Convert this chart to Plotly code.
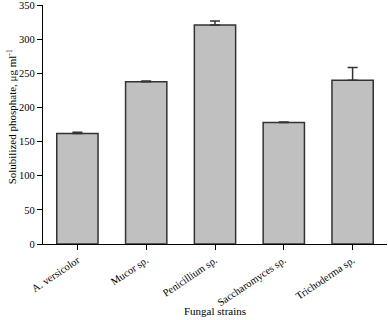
import plotly.graph_objects as go

strains = ["A. versicolor", "Mucor sp.", "Penicillium sp.", "Saccharomyces sp.", "Trichoderma sp."]
phosphate = [162, 238, 321, 178, 240]
errors = [2, 1, 6, 1, 19]
y_ticks = [0, 50, 100, 150, 200, 250, 300, 350]

font_family = "Liberation Serif, Times New Roman, serif"

fig = go.Figure(go.Bar(
    x=strains, y=phosphate, width=0.6,
    marker=dict(color="#c0c0c0", line=dict(color="#333333", width=1.5)),
    error_y=dict(type="data", array=errors, arrayminus=[0]*len(errors), symmetric=False,
                 color="#333333", thickness=1.5, width=5),
))

fig.update_layout(
    width=388, height=320,
    margin=dict(l=43, r=1, t=5, b=76),
    plot_bgcolor="white", paper_bgcolor="white",
    font=dict(family=font_family, size=11, color="black"),
    showlegend=False,
    xaxis=dict(
        range=[-0.5, 4.5], showline=True, linecolor="black", linewidth=1.2,
        ticks="outside", ticklen=5, tickcolor="black", tickangle=-34,
        tickfont=dict(size=10.5), automargin=False,
        showgrid=False,
    ),
    yaxis=dict(
        range=[0, 350.5], tickvals=y_ticks, showline=True, linecolor="black", linewidth=1.2,
        ticks="outside", ticklen=5, tickcolor="black",
        tickfont=dict(size=10.5), automargin=False, ticklabeloverflow="allow",
        showgrid=False, zeroline=False,
    ),
    annotations=[
        dict(text="Fungal strains", x=0.5, y=-0.28, xref="paper", yref="paper",
             xanchor="center", yanchor="middle", showarrow=False,
             font=dict(size=11)),
        dict(text="Solubilized phosphate, μg ml<sup>-1</sup>", x=-0.09, y=0.53,
             xref="paper", yref="paper", xanchor="center", yanchor="middle",
             textangle=-90, showarrow=False, font=dict(size=11)),
    ],
)

fig.write_html("out.html", config={"displayModeBar": False},
               post_script="document.body.style.margin='0';")
